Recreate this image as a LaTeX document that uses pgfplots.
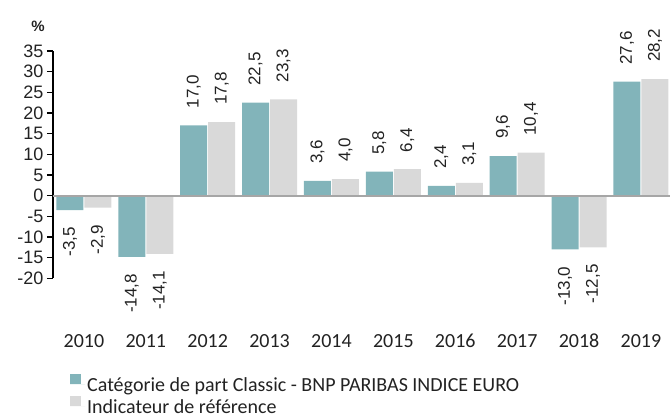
\documentclass[border=0pt]{standalone}
\usepackage{fontspec}
\setmainfont{Carlito}
\newfontfamily\arialf{Liberation Sans}
\usepackage{pgfplots}
\pgfplotsset{compat=1.18}
\definecolor{teal1}{HTML}{82B4BA}
\definecolor{gray1}{HTML}{D9D9D9}
\definecolor{zero}{HTML}{A6A6A6}
\definecolor{txt}{HTML}{222222}
\begin{document}
\begin{tikzpicture}
\path[use as bounding box] (-53pt,-139pt) rectangle (617pt,278.3pt);
\begin{axis}[
  at={(0,0)}, anchor=south west,
  scale only axis, width=617pt, height=227.2pt,
  xmin=-0.5, xmax=9.47, ymin=-20, ymax=35,
  ytick={-20,-15,-10,-5,0,5,10,15,20,25,30,35},
  xtick={0,1,2,3,4,5,6,7,8,9},
  xticklabels={2010,2011,2012,2013,2014,2015,2016,2017,2018,2019},
  axis lines*=left,
  x axis line style={draw=none},
  xtick style={draw=none},
  y axis line style={black, line width=1.3pt},
  ytick style={black, line width=1.3pt},
  tick align=outside, major tick length=6pt,
  /pgf/number format/assume math mode=true,
  yticklabel style={font=\arialf\fontsize{18}{18}\selectfont, text=txt},
  xticklabel style={font=\fontsize{20}{20}\selectfont, anchor=base, yshift=-63pt, text=txt},
  ybar, bar width=27pt,
  clip=false,
  legend cell align=left,
  legend style={at={(0,0)}, anchor=north west, xshift=17pt, yshift=-95.5pt, draw=none, fill=none, inner sep=0pt, row sep=2.5pt, font=\fontsize{20}{20}\selectfont, text=txt, nodes={text depth=0pt, inner ysep=2pt}},
  legend image code/.code={\fill[#1] (0pt,0pt) rectangle (11pt,10.5pt); \path (0pt,0pt) -- (15pt,0pt);},
  point meta=explicit symbolic,
  visualization depends on={y \as \rawy},
  nodes near coords,
  every node near coord/.append style={font=\arialf\fontsize{17}{17}\selectfont, text=txt, rotate=90, inner xsep=17pt, inner ysep=0pt, anchor={\ifdim\rawy pt<0pt east\else west\fi}},
]
\addplot[fill=teal1, draw=none, bar shift=-14pt] coordinates {
(0,-3.5) [-3,5] (1,-14.8) [-14,8] (2,17.0) [17,0] (3,22.5) [22,5] (4,3.6) [3,6]
(5,5.8) [5,8] (6,2.4) [2,4] (7,9.6) [9,6] (8,-13.0) [-13,0] (9,27.6) [27,6]};
\addlegendentry{Catégorie de part Classic - BNP PARIBAS INDICE EURO}
\addplot[fill=gray1, draw=none, bar shift=14pt] coordinates {
(0,-2.9) [-2,9] (1,-14.1) [-14,1] (2,17.8) [17,8] (3,23.3) [23,3] (4,4.0) [4,0]
(5,6.4) [6,4] (6,3.1) [3,1] (7,10.4) [10,4] (8,-12.5) [-12,5] (9,28.2) [28,2]};
\addlegendentry{Indicateur de référence}
\draw[zero, line width=2pt] (axis cs:-0.5,0) -- (axis cs:9.47,0);
\node[font=\arialf\bfseries\fontsize{15}{15}\selectfont, text=txt, xshift=-15pt, yshift=25pt] at (rel axis cs:0,1) {\%};
\end{axis}
\end{tikzpicture}
\end{document}
